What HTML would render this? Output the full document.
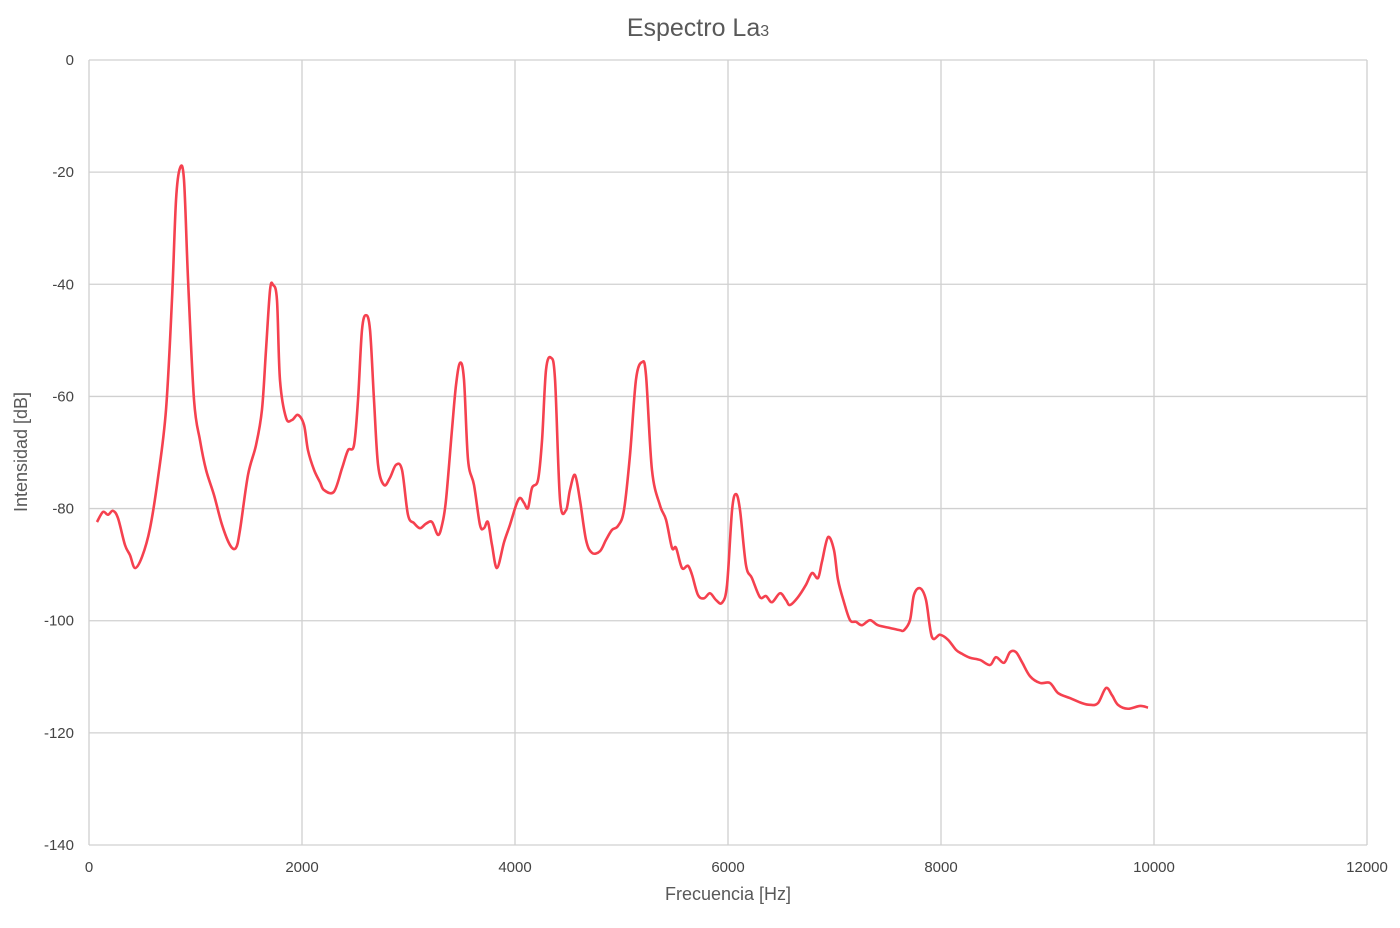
<!DOCTYPE html>
<html><head><meta charset="utf-8"><style>
body{margin:0;background:#fff;}
svg{display:block;font-family:"Liberation Sans",sans-serif;}
</style></head><body>
<svg id="chart" width="1400" height="928">
<text x="698" y="36" text-anchor="middle" font-size="25" fill="#595959">Espectro La<tspan font-size="16">3</tspan></text>
<g id="grid"></g>
<g id="ticks"></g>
<text x="728" y="900" text-anchor="middle" font-size="18" fill="#595959">Frecuencia [Hz]</text>
<text transform="translate(27,452) rotate(-90)" text-anchor="middle" font-size="18" fill="#595959">Intensidad [dB]</text>
<path id="line" fill="none" stroke="#f5414f" stroke-width="2.6" stroke-linejoin="round"></path>
</svg>
<script>
const xTicks=[0,2000,4000,6000,8000,10000,12000];
const yTicks=[0,-20,-40,-60,-80,-100,-120,-140];
const freqs=[75,131,178,225,272,338,385,432,498,573,648,723,779,817,854,892,930,986,1042,1099,1174,1249,1324,1380,1418,1493,1568,1624,1662,1700,1728,1765,1793,1850,1906,1962,2019,2056,2113,2169,2207,2300,2376,2432,2488,2526,2563,2601,2639,2676,2714,2770,2826,2883,2939,2995,3052,3108,3164,3221,3277,3315,3352,3408,3446,3484,3521,3559,3615,3671,3709,3746,3784,3831,3897,3953,4010,4047,4085,4122,4160,4216,4254,4291,4338,4376,4423,4479,4516,4563,4610,4667,4723,4798,4854,4911,4967,5023,5080,5136,5192,5230,5286,5361,5418,5474,5512,5568,5624,5662,5718,5775,5831,5887,5944,5991,6038,6075,6113,6169,6225,6300,6357,6413,6488,6544,6582,6657,6732,6789,6845,6882,6939,6995,7033,7089,7146,7202,7258,7333,7408,7521,7615,7653,7709,7746,7803,7859,7915,7991,8066,8141,8197,8272,8366,8460,8516,8592,8648,8704,8761,8836,8930,9023,9099,9211,9324,9399,9474,9549,9606,9662,9756,9869,9944];
const dB=[-82.4,-80.6,-81.1,-80.4,-81.7,-86.5,-88.3,-90.6,-88.6,-83.5,-74.5,-62.4,-42.8,-25,-19.3,-21.4,-39.2,-60.6,-67.8,-73.1,-77.6,-82.9,-86.5,-87,-83.8,-74,-68.7,-62.4,-51.7,-41,-40.1,-42.8,-57,-63.8,-64.2,-63.3,-65.1,-69.6,-73.1,-75.3,-76.7,-77,-72.8,-69.6,-68.7,-60.6,-48.2,-45.5,-48.2,-60.6,-72.2,-75.8,-74.5,-72.2,-73.1,-81.1,-82.6,-83.5,-82.7,-82.4,-84.7,-82.9,-78.5,-66,-58,-54,-57,-71.3,-75.8,-82.9,-83.5,-82.4,-86.5,-90.6,-86,-82.9,-79.4,-78.1,-79,-79.9,-76.3,-74.9,-67.8,-55.3,-53.1,-57,-78.5,-80.3,-76.7,-74,-78.5,-85.6,-87.9,-87.6,-85.6,-83.8,-83.1,-80.3,-70.4,-57,-53.9,-56.2,-73.1,-79.4,-82,-87,-87,-90.6,-90.2,-91.8,-95.4,-96,-95.1,-96.3,-96.8,-93.6,-80.3,-77.4,-80.3,-90.1,-92.4,-95.8,-95.6,-96.7,-95.1,-96.3,-97.2,-95.8,-93.6,-91.5,-92.4,-89.5,-85.1,-87.4,-92.7,-96.7,-99.9,-100.2,-100.8,-99.9,-100.8,-101.3,-101.7,-101.7,-99.9,-95.4,-94.2,-96.3,-102.9,-102.5,-103.4,-105.2,-105.9,-106.6,-107,-107.9,-106.5,-107.5,-105.6,-105.6,-107.4,-109.9,-111.1,-111.1,-112.9,-113.8,-114.7,-115,-114.7,-112,-113.3,-115,-115.7,-115.2,-115.5];
const X0=89,X1=1367,Y0=60,Y1=845;
const sx=v=>X0+(v-0)/(12000)*(X1-X0);
const sy=v=>Y0+(0-v)/140*(Y1-Y0);
const NS="http://www.w3.org/2000/svg";
const grid=document.getElementById('grid'),ticks=document.getElementById('ticks');
xTicks.forEach(t=>{
  const l=document.createElementNS(NS,'line');
  l.setAttribute('x1',sx(t));l.setAttribute('x2',sx(t));l.setAttribute('y1',Y0);l.setAttribute('y2',Y1);
  l.setAttribute('stroke','#d0d0d0');l.setAttribute('stroke-width','1.3');
  
  
  grid.appendChild(l);
  const tx=document.createElementNS(NS,'text');
  tx.setAttribute('x',sx(t));tx.setAttribute('y',Y1+27);tx.setAttribute('text-anchor','middle');
  tx.setAttribute('font-size','15');tx.setAttribute('fill','#444');tx.textContent=t;
  
  
  ticks.appendChild(tx);
});
yTicks.forEach(t=>{
  const l=document.createElementNS(NS,'line');
  l.setAttribute('x1',X0);l.setAttribute('x2',X1);l.setAttribute('y1',sy(t));l.setAttribute('y2',sy(t));
  l.setAttribute('stroke','#d0d0d0');l.setAttribute('stroke-width','1.3');
  
  
  grid.appendChild(l);
  const tx=document.createElementNS(NS,'text');
  tx.setAttribute('x',X0-15);tx.setAttribute('y',sy(t)+5);tx.setAttribute('text-anchor','end');
  tx.setAttribute('font-size','15');tx.setAttribute('fill','#444');tx.textContent=t;
  
  
  ticks.appendChild(tx);
});
const P=freqs.map((f,i)=>[sx(f),sy(dB[i])]);
let d='M'+P[0][0]+','+P[0][1];
for(let i=0;i<P.length-1;i++){
  const p0=P[Math.max(0,i-1)],p1=P[i],p2=P[i+1],p3=P[Math.min(P.length-1,i+2)];
  const c1=[p1[0]+(p2[0]-p0[0])/6,p1[1]+(p2[1]-p0[1])/6];
  const c2=[p2[0]-(p3[0]-p1[0])/6,p2[1]-(p3[1]-p1[1])/6];
  d+=` C${c1[0]},${c1[1]} ${c2[0]},${c2[1]} ${p2[0]},${p2[1]}`;
}
document.getElementById('line').setAttribute('d',d);
</script>
</body></html>
